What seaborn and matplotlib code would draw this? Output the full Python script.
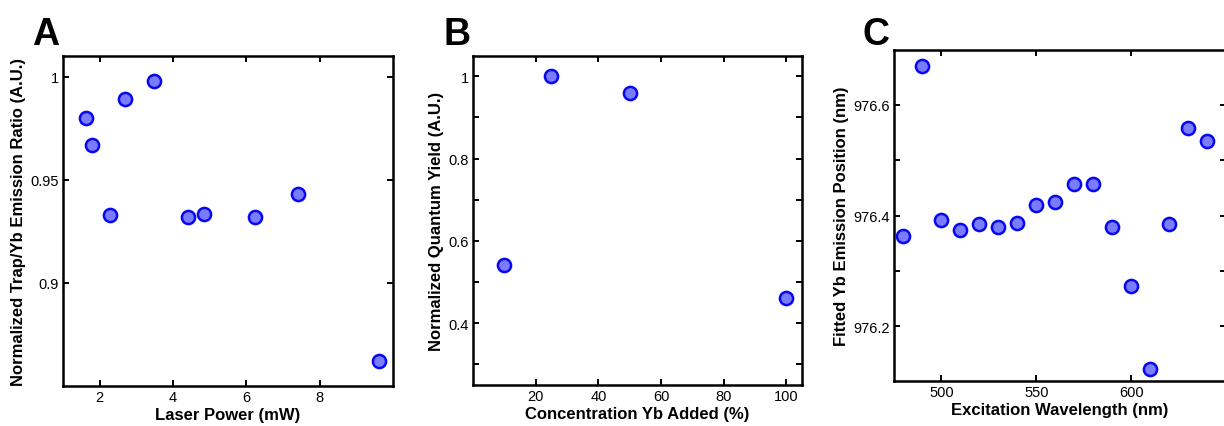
import matplotlib
matplotlib.use("Agg")
import matplotlib.pyplot as plt
import matplotlib.ticker as mticker
import seaborn as sns
import pandas as pd

# ---- data ----
laser_power = [1.62, 1.79, 2.28, 2.68, 3.47, 4.42, 4.85, 6.25, 7.42, 9.63]
trap_yb_ratio = [0.980, 0.967, 0.933, 0.989, 0.998, 0.932, 0.9335, 0.932, 0.943, 0.862]

yb_conc = [10, 25, 50, 100]
quantum_yield = [0.541, 1.0, 0.960, 0.461]

exc_wavelength = [480, 490, 500, 510, 520, 530, 540, 550, 560, 570, 580, 590,
                  600, 610, 620, 630, 640]
yb_position = [976.363, 976.670, 976.392, 976.374, 976.385, 976.380, 976.387,
               976.419, 976.425, 976.457, 976.457, 976.379, 976.273, 976.123,
               976.385, 976.559, 976.534]

panel_letters = ["A", "B", "C"]

# ---- style ----
sns.set_theme(style="ticks")
plt.rcParams["font.family"] = ["Liberation Sans", "DejaVu Sans"]
plt.rcParams["text.color"] = "black"
plt.rcParams["axes.labelcolor"] = "black"
plt.rcParams["xtick.color"] = "black"
plt.rcParams["ytick.color"] = "black"

FILL = "#7b7bff"
EDGE = "#0808f0"

fig = plt.figure(figsize=(12.24, 4.27), dpi=100)

axA = fig.add_axes([63 / 1224, 40 / 427, 330 / 1224, 330 / 427])
axB = fig.add_axes([473 / 1224, 41.3 / 427, 329 / 1224, 329 / 427])
axC = fig.add_axes([894 / 1224, 44.7 / 427, 332 / 1224, 331.6 / 427])

dfA = pd.DataFrame({"x": laser_power, "y": trap_yb_ratio})
dfB = pd.DataFrame({"x": yb_conc, "y": quantum_yield})
dfC = pd.DataFrame({"x": exc_wavelength, "y": yb_position})

for ax, df in zip([axA, axB, axC], [dfA, dfB, dfC]):
    sns.scatterplot(data=df, x="x", y="y", ax=ax, s=90, color=FILL,
                    edgecolor=EDGE, linewidth=1.8, zorder=3, clip_on=False)

# Panel A
axA.set_xlim(1, 10)
axA.set_ylim(0.85, 1.01)
axA.set_xticks([2, 4, 6, 8])
axA.set_yticks([0.9, 0.95, 1.0])
axA.set_xlabel("Laser Power (mW)")
axA.set_ylabel("Normalized Trap/Yb Emission Ratio (A.U.)")

# Panel B
axB.set_xlim(0, 105)
axB.set_ylim(0.25, 1.05)
axB.set_xticks([20, 40, 60, 80, 100])
axB.set_yticks([0.4, 0.6, 0.8, 1.0])
axB.yaxis.set_minor_locator(mticker.FixedLocator([0.3, 0.5, 0.7, 0.9]))
axB.set_xlabel("Concentration Yb Added (%)")
axB.set_ylabel("Normalized Quantum Yield (A.U.)")

# Panel C
axC.set_xlim(475, 650)
axC.set_ylim(976.1, 976.7)
axC.set_xticks([500, 550, 600])
axC.set_yticks([976.2, 976.4, 976.6])
axC.yaxis.set_minor_locator(mticker.FixedLocator([976.3, 976.5]))
axC.set_xlabel("Excitation Wavelength (nm)")
axC.set_ylabel("Fitted Yb Emission Position (nm)")

for ax, letter in zip([axA, axB, axC], panel_letters):
    ax.yaxis.set_major_formatter(mticker.FuncFormatter(lambda v, p: f"{v:g}"))
    ax.xaxis.set_major_formatter(mticker.FuncFormatter(lambda v, p: f"{v:g}"))
    ax.tick_params(which="both", direction="in", top=True, right=True,
                   length=4, width=1.4, color="black", labelsize=10.5,
                   pad=3, labelcolor="black")
    for sp in ax.spines.values():
        sp.set_linewidth(1.8)
        sp.set_color("black")
    ax.xaxis.label.set_fontsize(12)
    ax.xaxis.label.set_fontweight("bold")
    ax.xaxis.label.set_color("black")
    ax.yaxis.label.set_fontsize(12)
    ax.yaxis.label.set_fontweight("bold")
    ax.yaxis.label.set_color("black")
    ax.xaxis.labelpad = 2
    ax.yaxis.labelpad = 3

fig.text(32 / 1224, 1 - 45 / 427, "A", fontsize=27, fontweight="bold", color="black", ha="left", va="baseline")
fig.text(444 / 1224, 1 - 45 / 427, "B", fontsize=27, fontweight="bold", color="black", ha="left", va="baseline")
fig.text(862 / 1224, 1 - 45 / 427, "C", fontsize=27, fontweight="bold", color="black", ha="left", va="baseline")

fig.savefig("out.png", dpi=100)
